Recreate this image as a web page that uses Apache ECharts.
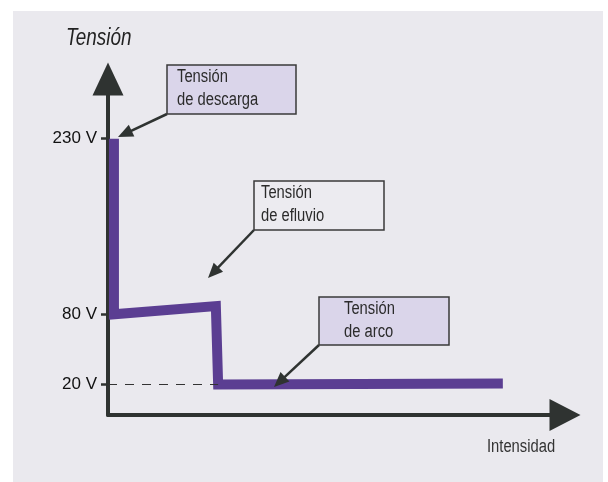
<!DOCTYPE html>
<html>
<head>
<meta charset="utf-8">
<script src="https://cdn.jsdelivr.net/npm/echarts@6/dist/echarts.min.js"></script>
<style>
  html, body { margin: 0; padding: 0; background: #fff; }
  #wrap { position: relative; width: 608px; height: 482px; background: #fff; }
  #panel { position: absolute; left: 13px; top: 11px; width: 590px; height: 471px; background: #eae9ee; }
  #main { position: absolute; left: 0; top: 0; width: 608px; height: 482px; }
</style>
</head>
<body>
<div id="wrap">
  <div id="panel"></div>
  <div id="main"></div>
</div>
<script>
// curva tensión / intensidad (esquema)
const intensity = [1.3, 1.3, 23.6, 24.1, 86.4];
const voltage = [230, 80, 87, 20, 21];
const tickVolts = [20, 80, 230];
const guideVolt = 20;

const noteTexts = ['Tensión\nde descarga', 'Tensión\nde efluvio', 'Tensión\nde arco'];

const axisColor = '#2f3331';
const purple = '#5b3e92';
const lavender = '#dad5ea';
const sans = '"Liberation Sans", Arial, sans-serif';
const squeeze = 0.82; // imita una fuente estrecha

// cajas de notas (px) y puntas de flecha
const boxes = [
  { x: 167, y: 65, w: 129, h: 49, pad: 10, fill: lavender },
  { x: 254, y: 181, w: 130, h: 49, pad: 7, fill: '#ecebf0' },
  { x: 319, y: 297, w: 130, h: 48, pad: 25, fill: lavender }
];
const tips = [[118, 137], [208, 278], [274, 387]];
const headLen = 15;

function arrowLine(box, tip) {
  let sx = box.x, sy = box.y + box.h;
  let dx = tip[0] - sx, dy = tip[1] - sy;
  let len = Math.sqrt(dx * dx + dy * dy);
  // el símbolo se centra en el extremo, se retrocede media punta
  let ex = tip[0] - dx / len * headLen / 2;
  let ey = tip[1] - dy / len * headLen / 2;
  return [{ x: sx, y: sy }, { x: ex, y: ey }];
}

function narrowText(text, x, y, font, fill, extra) {
  let style = { text: text, x: 0, y: 0, font: font, fill: fill };
  Object.assign(style, extra);
  return { type: 'text', x: x, y: y, scaleX: squeeze, style: style, z: 11 };
}

const points = intensity.map(function (v, i) { return [v, voltage[i]]; });

let graphics = [];
boxes.forEach(function (b, i) {
  graphics.push({
    type: 'rect',
    shape: { x: b.x, y: b.y, width: b.w, height: b.h },
    style: { fill: b.fill, stroke: '#3a3a3a', lineWidth: 1.5 },
    z: 10
  });
  graphics.push(narrowText(noteTexts[i], b.x + b.pad, b.y + 0.3, '18px ' + sans, '#2b2b2b',
    { lineHeight: 23, verticalAlign: 'top' }));
});
graphics.push(narrowText('Tensión', 66, 39, 'italic 23px ' + sans, '#222', { verticalAlign: 'middle' }));
graphics.push(narrowText('Intensidad', 487, 447, '18px ' + sans, '#333', { verticalAlign: 'middle' }));

const chart = echarts.init(document.getElementById('main'), null, { renderer: 'canvas' });

let option = {
  animation: false,
  grid: { left: 108, right: 43, top: 79, bottom: 67, outerBoundsMode: 'none' },
  xAxis: {
    type: 'value',
    min: 0,
    max: 100,
    axisLine: {
      onZero: false,
      symbol: ['none', 'triangle'],
      symbolSize: [32, 31],
      lineStyle: { color: axisColor, width: 4 }
    },
    axisTick: { show: false },
    axisLabel: { show: false },
    splitLine: { show: false }
  },
  yAxis: {
    type: 'value',
    min: -6,
    max: 281,
    axisLine: {
      show: true,
      onZero: false,
      symbol: ['none', 'triangle'],
      symbolSize: [31, 33],
      lineStyle: { color: axisColor, width: 4 }
    },
    axisTick: {
      show: true,
      customValues: tickVolts,
      length: 7,
      lineStyle: { color: axisColor, width: 2.5 }
    },
    axisLabel: {
      customValues: tickVolts,
      formatter: '{value} V',
      margin: 11,
      fontSize: 17,
      fontFamily: sans,
      color: '#111'
    },
    splitLine: { show: false }
  },
  series: [
    {
      type: 'line',
      data: points,
      showSymbol: false,
      z: 3,
      lineStyle: { color: purple, width: 10, cap: 'butt', join: 'miter' },
      markLine: {
        silent: true,
        symbol: ['none', 'none'],
        label: { show: false },
        lineStyle: { color: '#333', width: 1, type: [9, 8] },
        data: [[{ coord: [0, guideVolt] }, { coord: [intensity[3], guideVolt] }]]
      }
    },
    {
      type: 'line',
      data: [],
      z: 5,
      markLine: {
        silent: true,
        symbol: ['none', 'triangle'],
        symbolSize: [13, headLen],
        label: { show: false },
        lineStyle: { color: axisColor, width: 2.5, type: 'solid' },
        data: boxes.map(function (b, i) { return arrowLine(b, tips[i]); })
      }
    }
  ],
  graphic: graphics
};

chart.setOption(option);
</script>
</body>
</html>
